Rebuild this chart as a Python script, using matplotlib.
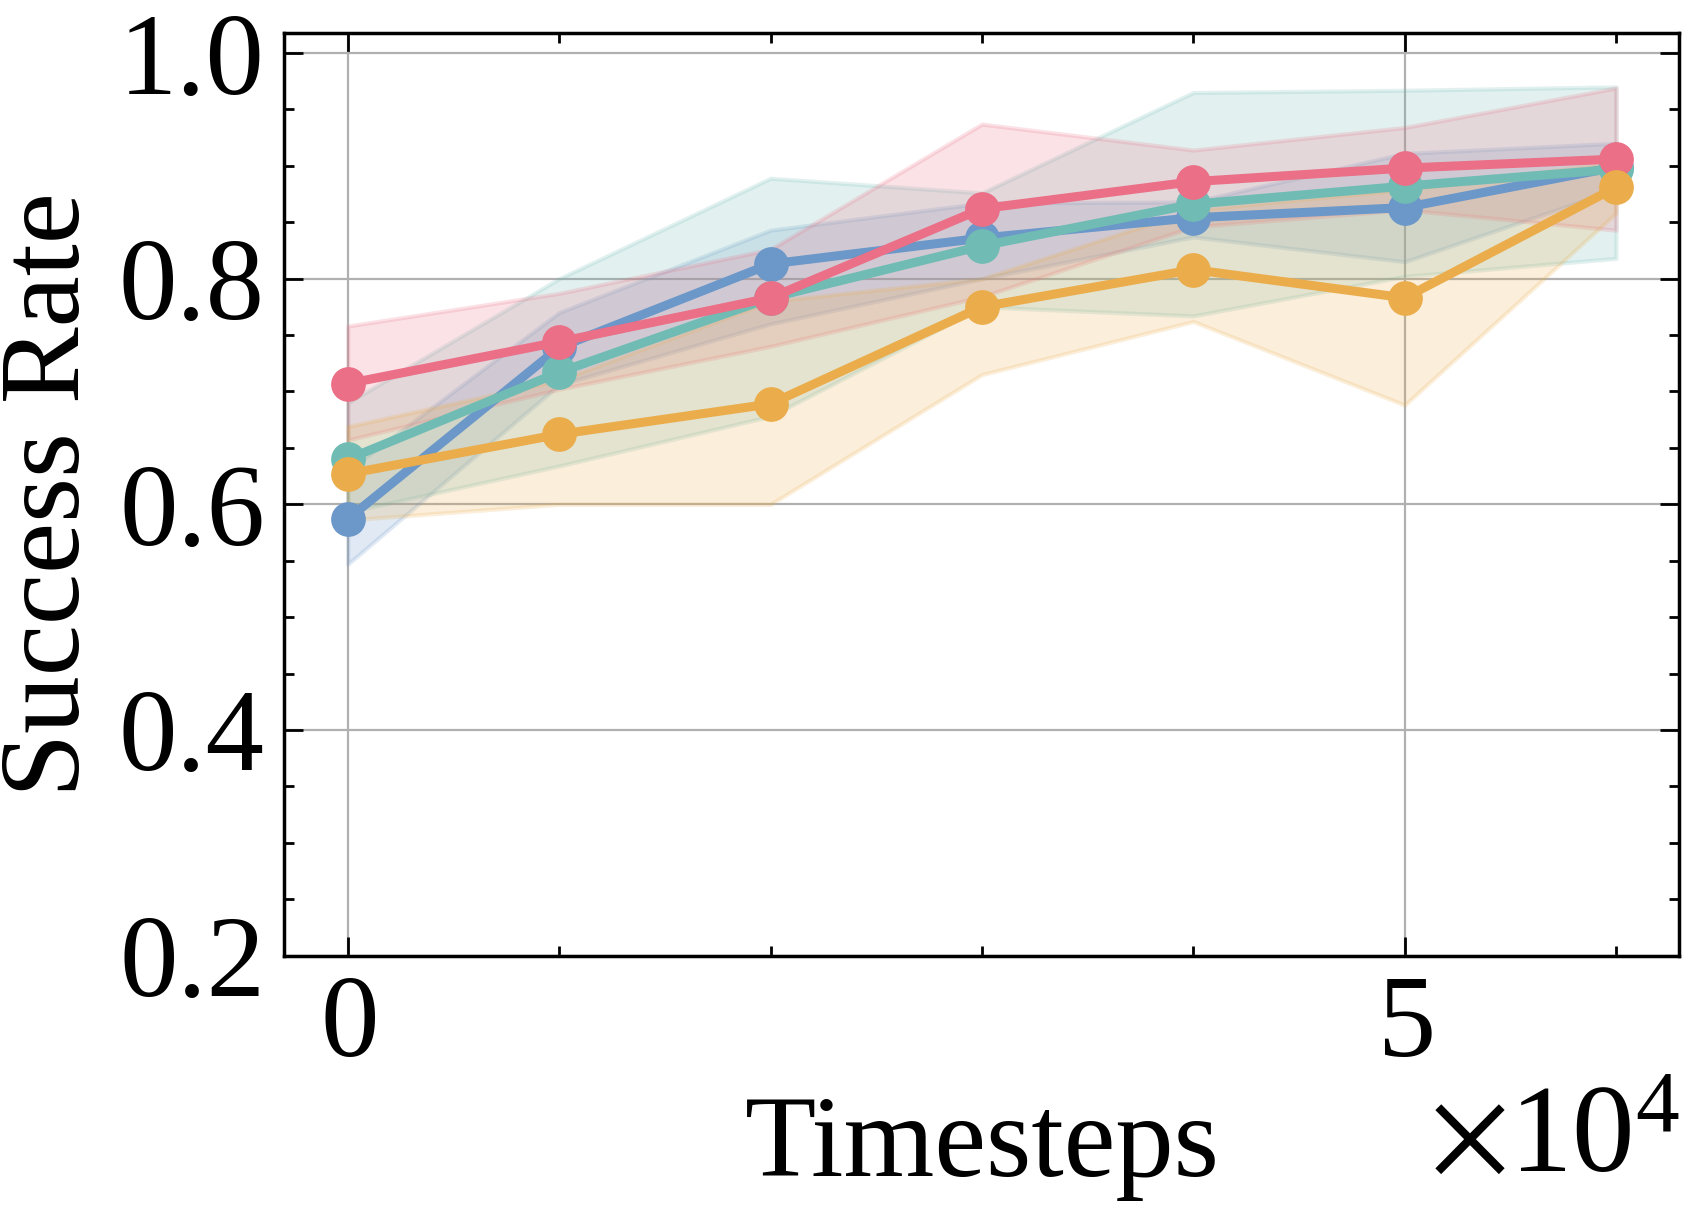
import numpy as np
import matplotlib
matplotlib.use("Agg")
import matplotlib.pyplot as plt
from matplotlib.ticker import MultipleLocator, ScalarFormatter, FormatStrFormatter

plt.rcParams['font.family'] = 'serif'
plt.rcParams['font.serif'] = ['Liberation Serif', 'DejaVu Serif']
plt.rcParams['mathtext.fontset'] = 'stix'

# timesteps of evaluation
steps = [0, 10000, 20000, 30000, 40000, 50000, 60000]

# mean success rate per method, with lower / upper band edges
blue_mean = [0.587, 0.739, 0.813, 0.836, 0.854, 0.863, 0.899]
blue_lo = [0.547, 0.706, 0.760, 0.800, 0.837, 0.815, 0.879]
blue_hi = [0.630, 0.770, 0.843, 0.867, 0.868, 0.911, 0.920]

teal_mean = [0.640, 0.717, 0.783, 0.829, 0.866, 0.882, 0.897]
teal_lo = [0.593, 0.634, 0.678, 0.775, 0.767, 0.802, 0.818]
teal_hi = [0.690, 0.800, 0.889, 0.876, 0.965, 0.967, 0.970]

red_mean = [0.707, 0.744, 0.783, 0.862, 0.886, 0.898, 0.906]
red_lo = [0.657, 0.702, 0.740, 0.784, 0.846, 0.861, 0.843]
red_hi = [0.758, 0.787, 0.826, 0.937, 0.914, 0.934, 0.969]

orange_mean = [0.627, 0.662, 0.689, 0.775, 0.808, 0.783, 0.881]
orange_lo = [0.586, 0.600, 0.600, 0.715, 0.762, 0.688, 0.858]
orange_hi = [0.669, 0.710, 0.780, 0.800, 0.861, 0.879, 0.903]

series = [
    (blue_mean, blue_lo, blue_hi, '#6b97c9'),
    (teal_mean, teal_lo, teal_hi, '#70bcb4'),
    (red_mean, red_lo, red_hi, '#eb6f86'),
    (orange_mean, orange_lo, orange_hi, '#ebad4b'),
]

fig = plt.figure(figsize=(16.93, 12.12), dpi=100)
ax = fig.add_axes([0.168, 0.2116, 0.824, 0.7614])

for mean, lo, hi, c in series:
    ax.fill_between(steps, lo, hi, color=c, alpha=0.2, linewidth=3, edgecolor=c)
    ax.plot(steps, mean, color=c, linewidth=6.5, marker='o', markersize=24)

ax.set_ylim(0.2, 1.018)
ax.set_xlim(-3000, 63000)

ax.xaxis.set_major_locator(MultipleLocator(50000))
ax.xaxis.set_minor_locator(MultipleLocator(10000))
ax.yaxis.set_major_locator(MultipleLocator(0.2))
ax.yaxis.set_minor_locator(MultipleLocator(0.05))
ax.yaxis.set_major_formatter(FormatStrFormatter('%.1f'))
fmt = ScalarFormatter(useMathText=True)
fmt.set_powerlimits((0, 0))
ax.xaxis.set_major_formatter(fmt)

ax.tick_params(which='both', direction='in', top=True, right=True, width=2)
ax.tick_params(which='major', length=14, labelsize=84, pad=14)
ax.tick_params(which='minor', length=7)
ax.xaxis.get_offset_text().set_fontsize(90)

for s in ax.spines.values():
    s.set_linewidth(2.5)

ax.grid(True, which='major', color='#b0b0b0', linewidth=1.6)
ax.set_axisbelow(True)

ax.set_xlabel('Timesteps', fontsize=84, labelpad=10)
ax.set_ylabel('Success Rate', fontsize=83)
ax.yaxis.set_label_coords(-0.13, 0.5)

fig.savefig('out.png', dpi=100)
